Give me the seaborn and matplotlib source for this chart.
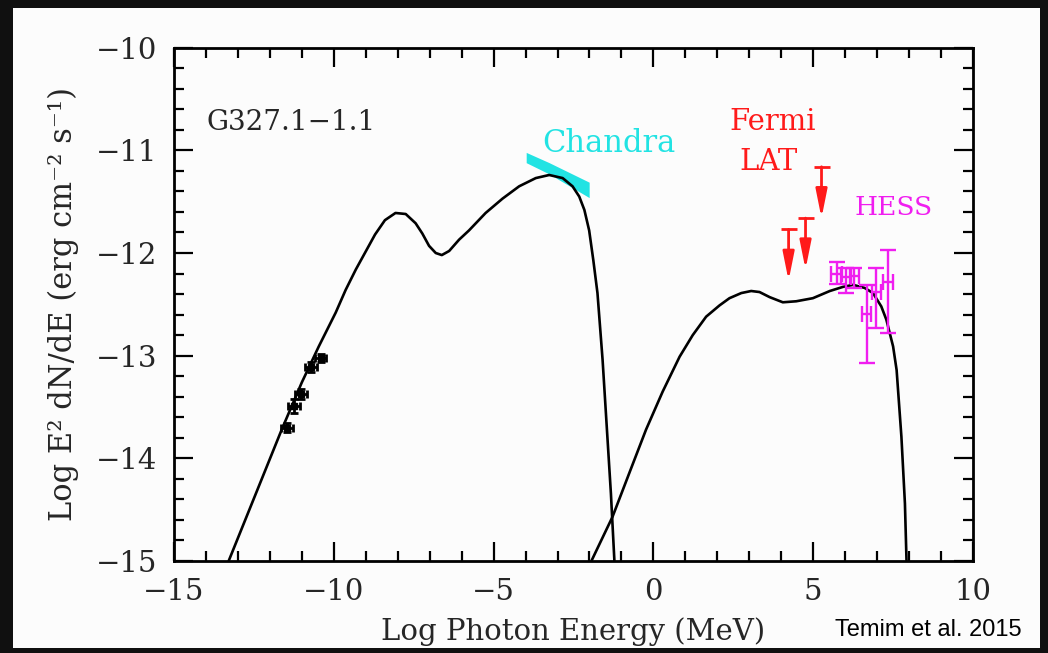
import numpy as np
import pandas as pd
import matplotlib
matplotlib.use("Agg")
import matplotlib.pyplot as plt
import seaborn as sns
from matplotlib.patches import Rectangle
from matplotlib.ticker import MultipleLocator

# ---------------- data ----------------
sync_x = [-13.29, -11.63, -11.00, -10.47, -9.94, -9.63, -9.31, -9.01, -8.71, -8.40,
          -8.07, -7.75, -7.44, -7.23, -7.02, -6.81, -6.62, -6.39, -6.08, -5.77,
          -5.25, -4.72, -4.20, -3.68, -3.26, -2.84, -2.53, -2.32, -2.16, -2.01,
          -1.88, -1.75, -1.59, -1.46, -1.33, -1.22]
sync_y = [-15.00, -13.72, -13.26, -12.91, -12.58, -12.36, -12.16, -11.99, -11.82, -11.68,
          -11.61, -11.62, -11.71, -11.81, -11.93, -12.00, -12.02, -11.98, -11.87, -11.78,
          -11.61, -11.47, -11.35, -11.27, -11.24, -11.27, -11.35, -11.45, -11.58, -11.78,
          -12.07, -12.39, -13.04, -13.69, -14.34, -15.00]

ic_x = [-1.94, -1.28, -0.75, -0.23, 0.29, 0.82, 1.23, 1.65, 2.07, 2.38,
        2.75, 3.06, 3.32, 3.64, 4.05, 4.47, 4.99, 5.52, 5.93, 6.25,
        6.61, 6.87, 7.13, 7.29, 7.50, 7.61, 7.76, 7.87, 7.92]
ic_y = [-15.00, -14.57, -14.14, -13.72, -13.35, -13.01, -12.80, -12.62, -12.51, -12.44,
        -12.39, -12.37, -12.38, -12.43, -12.48, -12.47, -12.44, -12.37, -12.33, -12.31,
        -12.34, -12.39, -12.52, -12.65, -12.91, -13.14, -13.79, -14.44, -15.00]

radio_x = [-11.47, -11.25, -11.03, -10.72, -10.41]
radio_y = [-13.70, -13.49, -13.37, -13.11, -13.02]
radio_xerr = [0.18, 0.18, 0.18, 0.18, 0.18]
radio_yerr = [0.04, 0.07, 0.05, 0.05, 0.04]

chandra_x = [-3.98, -3.26, -2.01]
chandra_hi = [-11.02, -11.12, -11.31]
chandra_lo = [-11.12, -11.23, -11.46]

fermi_x = [4.23, 4.76, 5.26]
fermi_ul = [-11.77, -11.66, -11.16]
fermi_arrow_len = 0.5

hess_x = [5.73, 6.03, 6.29, 6.67, 6.98, 7.34]
hess_y = [-12.20, -12.23, -12.22, -12.59, -12.38, -12.28]
hess_lo = [-12.30, -12.39, -12.34, -13.07, -12.73, -12.78]
hess_hi = [-12.09, -12.15, -12.15, -12.31, -12.15, -11.97]
hess_xerr = [0.17, 0.15, 0.15, 0.15, 0.15, 0.15]

x_ticks = [-15, -10, -5, 0, 5, 10]
y_ticks = [-15, -14, -13, -12, -11, -10]

# ---------------- style ----------------
sns.set_style("ticks")
plt.rcParams["font.family"] = ["DejaVu Serif", "DejaVu Sans"]
plt.rcParams["axes.unicode_minus"] = True

CYAN = "#22e3e3"
RED = "#ff1a1a"
MAGENTA = "#f01ef0"

fig = plt.figure(figsize=(10.48, 6.53), dpi=100)
fig.patch.set_facecolor("#101010")
bg = Rectangle((13 / 1048, 5 / 653), 1027 / 1048, 640 / 653,
               transform=fig.transFigure, facecolor="#fcfcfc",
               edgecolor="none", zorder=-10)
fig.patches.append(bg)

ax = fig.add_axes([174 / 1048, (653 - 561) / 653, 799 / 1048, 513.3 / 653])
ax.set_zorder(1)
ax.set_facecolor("#fcfcfc")

sync_df = pd.DataFrame({"x": sync_x, "y": sync_y})
ic_df = pd.DataFrame({"x": ic_x, "y": ic_y})
sns.lineplot(data=sync_df, x="x", y="y", sort=False, estimator=None, ax=ax,
             color="black", lw=1.9)
sns.lineplot(data=ic_df, x="x", y="y", sort=False, estimator=None, ax=ax,
             color="black", lw=1.9)
for ln in ax.lines:
    ln.set_solid_joinstyle("round")

# Chandra bow-tie
ax.fill_between(chandra_x, chandra_lo, chandra_hi, color=CYAN, lw=0, zorder=1)

# radio points
ax.errorbar(radio_x, radio_y, xerr=radio_xerr, yerr=radio_yerr, fmt="s",
            color="black", ms=5, elinewidth=2, capsize=3, capthick=2, zorder=3)

# Fermi upper limits
for fx, fu in zip(fermi_x, fermi_ul):
    ax.annotate("", xy=(fx, fu - fermi_arrow_len), xytext=(fx, fu),
                arrowprops=dict(arrowstyle="-|>,head_length=0.85,head_width=0.17",
                                color=RED, lw=2, shrinkA=0, shrinkB=0,
                                mutation_scale=20))
ax.plot(fermi_x, fermi_ul, ls="none", marker="_", ms=11, mew=2, color=RED)

# HESS points
hy = np.array(hess_y)
ax.errorbar(hess_x, hess_y, xerr=hess_xerr,
            yerr=[hy - np.array(hess_lo), np.array(hess_hi) - hy],
            fmt="none", ecolor=MAGENTA, elinewidth=1.7, capsize=5.5, capthick=1.7,
            zorder=3)

# labels
ax.text(-13.98, -10.73, "G327.1\u22121.1", fontsize=20, va="center", ha="left")
ax.text(-3.48, -10.93, "Chandra", fontsize=22, va="center", ha="left", color=CYAN)
ax.text(3.74, -10.72, "Fermi", fontsize=21, va="center", ha="center", color=RED)
ax.text(3.60, -11.11, "LAT", fontsize=21, va="center", ha="center", color=RED)
ax.text(7.52, -11.56, "HESS", fontsize=19, va="center", ha="center", color=MAGENTA)

ax.set_xlim(-15, 10)
ax.set_ylim(-15, -10)
ax.set_xticks(x_ticks)
ax.set_yticks(y_ticks)
ax.xaxis.set_minor_locator(MultipleLocator(1))
ax.yaxis.set_minor_locator(MultipleLocator(0.2))
ax.tick_params(which="both", direction="in", top=True, right=True, width=1.6,
               color="black", labelsize=21)
ax.tick_params(which="major", length=14, pad=12)
ax.tick_params(which="minor", length=7)
for s in ax.spines.values():
    s.set_linewidth(2)
    s.set_color("black")

ax.set_xlabel("Log Photon Energy (MeV)", fontsize=21, labelpad=8)
ax.set_ylabel("Log E\u00b2 dN/dE (erg cm\u207b\u00b2 s\u207b\u00b9)", fontsize=22, labelpad=12)

fig.text(835 / 1048, (653 - 630) / 653, "Temim et al. 2015", fontsize=17,
         family=["Liberation Sans Narrow", "Liberation Sans"], ha="left", va="center",
         color="black")

fig.savefig("out.png", dpi=100, facecolor=fig.get_facecolor())
